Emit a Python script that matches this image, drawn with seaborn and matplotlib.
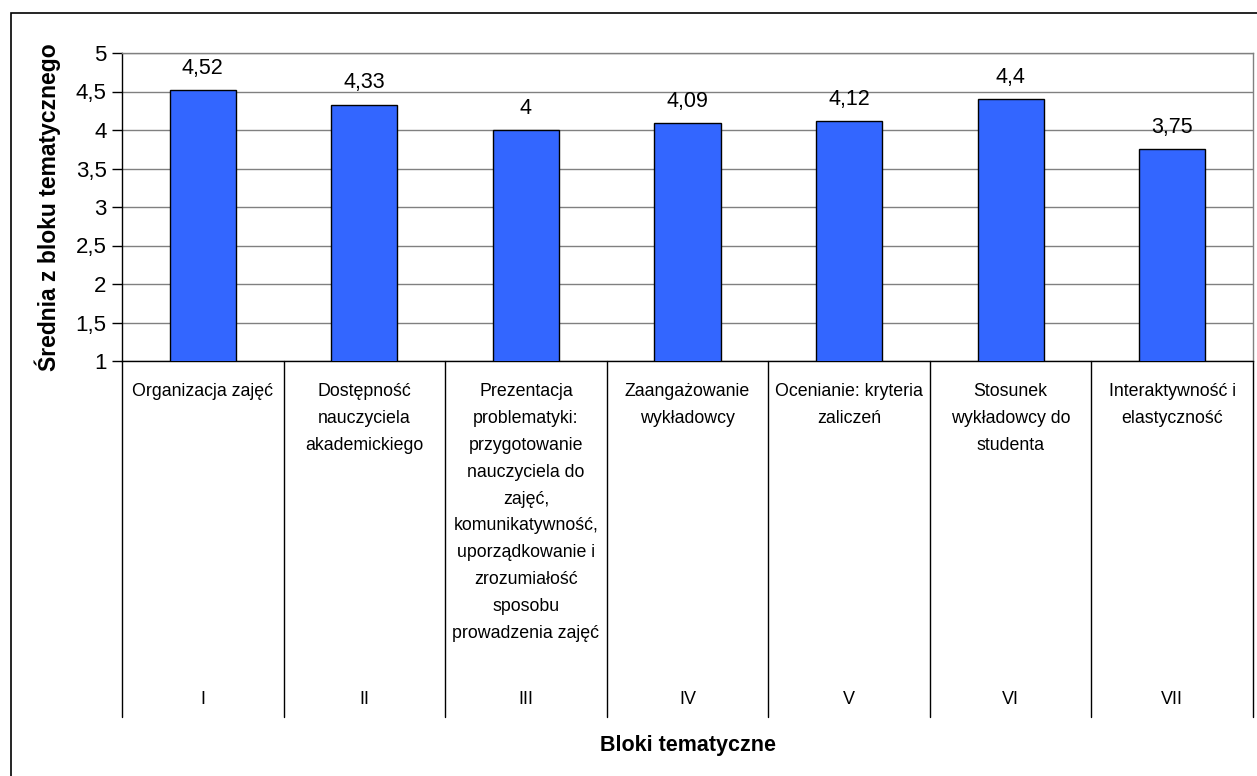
import numpy as np
import pandas as pd
import matplotlib
matplotlib.use("Agg")
import matplotlib.pyplot as plt
import matplotlib.transforms as mtransforms
from matplotlib.patches import Rectangle
import seaborn as sns

# data
blocks = ["I", "II", "III", "IV", "V", "VI", "VII"]
block_names = [
    "Organizacja zajęć",
    "Dostępność\nnauczyciela\nakademickiego",
    "Prezentacja\nproblematyki:\nprzygotowanie\nnauczyciela do\nzajęć,\nkomunikatywność,\nuporządkowanie i\nzrozumiałość\nsposobu\nprowadzenia zajęć",
    "Zaangażowanie\nwykładowcy",
    "Ocenianie: kryteria\nzaliczeń",
    "Stosunek\nwykładowcy do\nstudenta",
    "Interaktywność i\nelastyczność",
]
means = [4.52, 4.33, 4.00, 4.09, 4.12, 4.40, 3.75]
y_ticks = [1, 1.5, 2, 2.5, 3, 3.5, 4, 4.5, 5]

df = pd.DataFrame({"blok": blocks, "srednia": means})

sns.set_style("white")
plt.rcParams["font.family"] = ["Liberation Sans", "DejaVu Sans"]
plt.rcParams["text.color"] = "black"
plt.rcParams["ytick.color"] = "black"
plt.rcParams["ytick.labelcolor"] = "black"

W, H = 1257, 776
fig = plt.figure(figsize=(W / 100, H / 100), dpi=100)
# plot area in pixel coords: x 122..1253, y 53..361
ax = fig.add_axes([122 / W, 1 - 361 / H, (1253 - 122) / W, (361 - 53) / H])

sns.barplot(data=df, x="blok", y="srednia", color="#3366FF", saturation=1,
            edgecolor="black", linewidth=1, width=0.41, ax=ax, zorder=3)

ax.set_xlim(-0.5, len(blocks) - 0.5)
ax.set_ylim(1, 5)
ax.set_yticks(y_ticks)
ax.set_yticklabels([f"{t:g}".replace(".", ",") for t in y_ticks], fontsize=16,
                   color="black")
ax.yaxis.grid(True, color="#808080", linewidth=1, zorder=0)
ax.tick_params(axis="y", direction="out", length=7, width=1, color="black",
               left=True, pad=4)
ax.tick_params(axis="x", bottom=False, labelbottom=False)
ax.set_xlabel("")
ax.set_ylabel("")

for side in ["left", "bottom"]:
    ax.spines[side].set_color("black")
    ax.spines[side].set_linewidth(1)
for side in ["top", "right"]:
    ax.spines[side].set_color("#808080")
    ax.spines[side].set_linewidth(1)

# value labels above bars
labels = [f"{v:g}".replace(".", ",") for v in means]
ax.bar_label(ax.containers[0], labels=labels, padding=8, fontsize=15.5,
             color="black")

# category table below the axis
px_h = 361 - 53
trans = mtransforms.blended_transform_factory(ax.transData, ax.transAxes)
bottom_y = -(717 - 361) / px_h
for k in range(len(blocks) + 1):
    ax.plot([k - 0.5, k - 0.5], [0, bottom_y], transform=trans,
            color="black", linewidth=1, clip_on=False)
for k, (name, num) in enumerate(zip(block_names, blocks)):
    ax.text(k, -(383 - 361) / px_h, name, transform=trans, ha="center",
            va="top", fontsize=12.8, linespacing=1.76, multialignment="center",
            color="black")
    ax.text(k, -(700 - 361) / px_h, num, transform=trans, ha="center",
            va="center", fontsize=13, color="black")

fig.text(48 / W, 1 - 207 / H, "Średnia z bloku tematycznego", rotation=90,
         ha="center", va="center", fontsize=16.5, fontweight="bold",
         color="black")
fig.text(688 / W, 1 - 745 / H, "Bloki tematyczne", ha="center", va="center",
         fontsize=15.5, fontweight="bold", color="black")

# outer chart frame (only left and top edges visible in the image)
fig.patches.append(Rectangle((11 / W, -0.1), 1.2, 1.1 - 13 / H, fill=False,
                             edgecolor="black", linewidth=1.2,
                             transform=fig.transFigure, figure=fig))

fig.savefig("out.png", dpi=100)
